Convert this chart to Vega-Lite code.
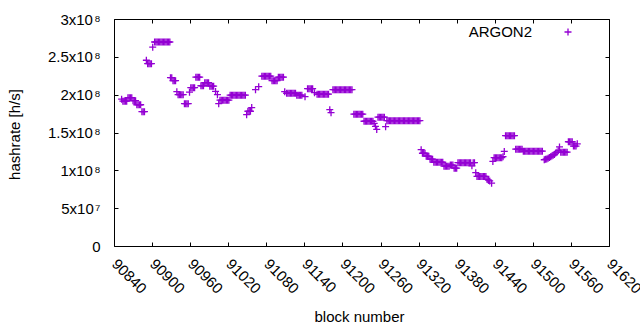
{
"$schema": "https://vega.github.io/schema/vega-lite/v6.json",
"width": 495, "height": 227,
"autosize": {"type": "none"},
"padding": {"left": 114, "top": 19, "right": 31, "bottom": 84},
"background": "white",
"config": {
 "font": "Liberation Sans",
 "view": {"stroke": "#000", "strokeWidth": 1},
 "axis": {"labelFont": "Liberation Sans", "labelFontSize": 15, "labelColor": "#000", "titleFont": "Liberation Sans", "titleFontSize": 15, "titleFontWeight": "normal", "titleColor": "#000", "tickColor": "#000", "tickWidth": 1, "domain": false, "grid": false},
 "legend": {"orient": "none", "legendX": 446.5, "legendY": 5.5, "padding": 0, "labelFont": "Liberation Sans", "labelFontSize": 15, "labelColor": "#000", "labelAlign": "right", "labelOffset": -43.5, "symbolType": "M-1,0H1M0,-1V1", "symbolSize": 49, "symbolStrokeWidth": 1.3, "symbolFillColor": "transparent", "symbolStrokeColor": "#9400d3"}
},
"data": {"values": [
{"b":90852,"h":1.94e8},
{"b":90854,"h":1.914e8},{"b":90856,"h":1.914e8},{"b":90858,"h":1.914e8},{"b":90860,"h":1.914e8},
{"b":90862,"h":1.96e8},{"b":90864,"h":1.96e8},{"b":90866,"h":1.96e8},{"b":90868,"h":1.96e8},
{"b":90870,"h":1.92e8},{"b":90872,"h":1.92e8},{"b":90874,"h":1.92e8},
{"b":90876,"h":1.867e8},{"b":90878,"h":1.867e8},{"b":90880,"h":1.867e8},{"b":90882,"h":1.867e8},
{"b":90884,"h":1.775e8},{"b":90886,"h":1.775e8},{"b":90888,"h":1.775e8},
{"b":90891,"h":2.455e8},
{"b":90893,"h":2.409e8},{"b":90895,"h":2.409e8},{"b":90897,"h":2.409e8},{"b":90899,"h":2.409e8},
{"b":90901,"h":2.627e8},
{"b":90904,"h":2.696e8},{"b":90906,"h":2.696e8},{"b":90908,"h":2.696e8},{"b":90910,"h":2.696e8},{"b":90912,"h":2.696e8},{"b":90914,"h":2.696e8},{"b":90916,"h":2.696e8},{"b":90918,"h":2.696e8},{"b":90920,"h":2.696e8},{"b":90922,"h":2.696e8},{"b":90924,"h":2.696e8},{"b":90926,"h":2.696e8},{"b":90928,"h":2.696e8},
{"b":90929,"h":2.224e8},{"b":90931,"h":2.224e8},
{"b":90933,"h":2.185e8},{"b":90935,"h":2.185e8},{"b":90937,"h":2.185e8},
{"b":90939,"h":2.039e8},
{"b":90941,"h":2.0e8},{"b":90943,"h":2.0e8},{"b":90945,"h":2.0e8},{"b":90947,"h":2.0e8},{"b":90949,"h":2.0e8},
{"b":90951,"h":1.881e8},{"b":90953,"h":1.881e8},{"b":90955,"h":1.881e8},{"b":90957,"h":1.881e8},
{"b":90959,"h":2.033e8},
{"b":90961,"h":2.092e8},{"b":90963,"h":2.092e8},{"b":90965,"h":2.092e8},{"b":90967,"h":2.092e8},
{"b":90969,"h":2.231e8},{"b":90971,"h":2.231e8},{"b":90973,"h":2.231e8},{"b":90975,"h":2.231e8},
{"b":90977,"h":2.118e8},{"b":90979,"h":2.118e8},{"b":90981,"h":2.118e8},
{"b":90983,"h":2.158e8},{"b":90985,"h":2.158e8},{"b":90987,"h":2.158e8},{"b":90989,"h":2.158e8},
{"b":90991,"h":2.112e8},{"b":90993,"h":2.112e8},{"b":90995,"h":2.112e8},{"b":90997,"h":2.112e8},
{"b":91000,"h":2.043e8},
{"b":91003,"h":2.0e8},
{"b":91005,"h":1.881e8},
{"b":91007,"h":1.927e8},{"b":91009,"h":1.927e8},{"b":91011,"h":1.927e8},{"b":91013,"h":1.927e8},{"b":91015,"h":1.927e8},{"b":91017,"h":1.927e8},{"b":91019,"h":1.927e8},{"b":91021,"h":1.927e8},
{"b":91023,"h":1.993e8},{"b":91025,"h":1.993e8},{"b":91027,"h":1.993e8},{"b":91029,"h":1.993e8},{"b":91031,"h":1.993e8},{"b":91033,"h":1.993e8},{"b":91035,"h":1.993e8},{"b":91037,"h":1.993e8},{"b":91039,"h":1.993e8},{"b":91041,"h":1.993e8},{"b":91043,"h":1.993e8},{"b":91045,"h":1.993e8},{"b":91047,"h":1.993e8},
{"b":91049,"h":1.735e8},
{"b":91051,"h":1.781e8},{"b":91053,"h":1.781e8},{"b":91055,"h":1.781e8},
{"b":91057,"h":1.83e8},
{"b":91063,"h":2.066e8},
{"b":91068,"h":2.105e8},
{"b":91073,"h":2.244e8},{"b":91075,"h":2.244e8},{"b":91077,"h":2.244e8},{"b":91079,"h":2.244e8},{"b":91081,"h":2.244e8},{"b":91083,"h":2.244e8},{"b":91085,"h":2.244e8},{"b":91087,"h":2.244e8},
{"b":91089,"h":2.185e8},{"b":91091,"h":2.185e8},{"b":91093,"h":2.185e8},{"b":91095,"h":2.185e8},{"b":91097,"h":2.185e8},
{"b":91099,"h":2.231e8},{"b":91101,"h":2.231e8},{"b":91103,"h":2.231e8},{"b":91105,"h":2.231e8},{"b":91107,"h":2.231e8},
{"b":91109,"h":2.039e8},
{"b":91112,"h":2.019e8},{"b":91114,"h":2.019e8},{"b":91116,"h":2.019e8},{"b":91118,"h":2.019e8},{"b":91120,"h":2.019e8},{"b":91122,"h":2.019e8},{"b":91124,"h":2.019e8},{"b":91126,"h":2.019e8},
{"b":91128,"h":1.993e8},{"b":91130,"h":1.993e8},{"b":91132,"h":1.993e8},{"b":91134,"h":1.993e8},{"b":91136,"h":1.993e8},
{"b":91141,"h":1.973e8},
{"b":91145,"h":2.079e8},{"b":91147,"h":2.079e8},{"b":91149,"h":2.079e8},{"b":91151,"h":2.079e8},{"b":91153,"h":2.079e8},
{"b":91156,"h":2.026e8},
{"b":91160,"h":2.006e8},{"b":91162,"h":2.006e8},{"b":91164,"h":2.006e8},{"b":91166,"h":2.006e8},{"b":91168,"h":2.006e8},{"b":91170,"h":2.006e8},{"b":91172,"h":2.006e8},{"b":91174,"h":2.006e8},{"b":91176,"h":2.006e8},{"b":91178,"h":2.006e8},
{"b":91180,"h":1.801e8},{"b":91182,"h":1.762e8},
{"b":91185,"h":2.066e8},{"b":91187,"h":2.066e8},{"b":91189,"h":2.066e8},{"b":91191,"h":2.066e8},{"b":91193,"h":2.066e8},{"b":91195,"h":2.066e8},{"b":91197,"h":2.066e8},{"b":91199,"h":2.066e8},{"b":91201,"h":2.066e8},{"b":91203,"h":2.066e8},{"b":91205,"h":2.066e8},{"b":91207,"h":2.066e8},{"b":91209,"h":2.066e8},{"b":91211,"h":2.066e8},{"b":91213,"h":2.066e8},{"b":91215,"h":2.066e8},
{"b":91218,"h":1.742e8},{"b":91220,"h":1.742e8},{"b":91222,"h":1.742e8},{"b":91224,"h":1.742e8},{"b":91226,"h":1.742e8},{"b":91228,"h":1.742e8},{"b":91230,"h":1.742e8},{"b":91232,"h":1.742e8},
{"b":91234,"h":1.649e8},{"b":91236,"h":1.649e8},{"b":91238,"h":1.649e8},{"b":91240,"h":1.649e8},{"b":91242,"h":1.649e8},{"b":91244,"h":1.649e8},{"b":91246,"h":1.649e8},{"b":91248,"h":1.649e8},
{"b":91250,"h":1.62e8},{"b":91252,"h":1.58e8},{"b":91254,"h":1.54e8},
{"b":91256,"h":1.702e8},{"b":91258,"h":1.702e8},{"b":91260,"h":1.702e8},{"b":91262,"h":1.702e8},{"b":91264,"h":1.702e8},{"b":91266,"h":1.702e8},
{"b":91268,"h":1.577e8},
{"b":91270,"h":1.656e8},{"b":91272,"h":1.656e8},{"b":91274,"h":1.656e8},{"b":91276,"h":1.656e8},{"b":91278,"h":1.656e8},{"b":91280,"h":1.656e8},{"b":91282,"h":1.656e8},{"b":91284,"h":1.656e8},{"b":91286,"h":1.656e8},{"b":91288,"h":1.656e8},{"b":91290,"h":1.656e8},{"b":91292,"h":1.656e8},{"b":91294,"h":1.656e8},{"b":91296,"h":1.656e8},{"b":91298,"h":1.656e8},{"b":91300,"h":1.656e8},{"b":91302,"h":1.656e8},{"b":91304,"h":1.656e8},{"b":91306,"h":1.656e8},{"b":91308,"h":1.656e8},{"b":91310,"h":1.656e8},{"b":91312,"h":1.656e8},{"b":91314,"h":1.656e8},{"b":91316,"h":1.656e8},{"b":91318,"h":1.656e8},{"b":91320,"h":1.656e8},{"b":91322,"h":1.656e8},
{"b":91324,"h":1.273e8},
{"b":91326,"h":1.226e8},{"b":91328,"h":1.226e8},{"b":91330,"h":1.226e8},
{"b":91332,"h":1.187e8},{"b":91334,"h":1.187e8},{"b":91336,"h":1.187e8},
{"b":91338,"h":1.147e8},{"b":91340,"h":1.147e8},{"b":91342,"h":1.147e8},
{"b":91344,"h":1.107e8},{"b":91346,"h":1.107e8},{"b":91348,"h":1.107e8},{"b":91350,"h":1.107e8},{"b":91352,"h":1.107e8},{"b":91354,"h":1.107e8},{"b":91356,"h":1.107e8},{"b":91358,"h":1.107e8},
{"b":91360,"h":1.055e8},{"b":91362,"h":1.055e8},{"b":91364,"h":1.055e8},{"b":91366,"h":1.055e8},{"b":91368,"h":1.055e8},
{"b":91370,"h":1.07e8},{"b":91372,"h":1.07e8},{"b":91374,"h":1.07e8},
{"b":91376,"h":1.028e8},{"b":91378,"h":1.028e8},{"b":91380,"h":1.028e8},
{"b":91382,"h":1.101e8},{"b":91384,"h":1.101e8},{"b":91386,"h":1.101e8},{"b":91388,"h":1.101e8},{"b":91390,"h":1.101e8},{"b":91392,"h":1.101e8},{"b":91394,"h":1.101e8},{"b":91396,"h":1.101e8},{"b":91398,"h":1.101e8},{"b":91400,"h":1.101e8},{"b":91402,"h":1.101e8},
{"b":91404,"h":1.06e8},{"b":91406,"h":1.101e8},{"b":91408,"h":1.101e8},
{"b":91410,"h":9.69e7},
{"b":91412,"h":9.2e7},{"b":91414,"h":9.2e7},{"b":91416,"h":9.2e7},{"b":91418,"h":9.2e7},{"b":91420,"h":9.2e7},{"b":91422,"h":9.2e7},{"b":91424,"h":9.2e7},{"b":91426,"h":9.2e7},
{"b":91428,"h":8.8e7},{"b":91430,"h":8.7e7},{"b":91432,"h":8.6e7},{"b":91435,"h":8.3e7},
{"b":91437,"h":1.118e8},
{"b":91439,"h":1.167e8},{"b":91441,"h":1.167e8},{"b":91443,"h":1.167e8},{"b":91445,"h":1.167e8},{"b":91447,"h":1.167e8},{"b":91449,"h":1.167e8},{"b":91451,"h":1.167e8},
{"b":91453,"h":1.18e8},{"b":91455,"h":1.25e8},
{"b":91457,"h":1.458e8},{"b":91459,"h":1.458e8},{"b":91461,"h":1.458e8},{"b":91463,"h":1.458e8},{"b":91465,"h":1.458e8},{"b":91467,"h":1.458e8},{"b":91469,"h":1.458e8},{"b":91471,"h":1.458e8},
{"b":91473,"h":1.279e8},{"b":91475,"h":1.279e8},{"b":91477,"h":1.279e8},{"b":91479,"h":1.279e8},{"b":91481,"h":1.279e8},{"b":91483,"h":1.279e8},
{"b":91485,"h":1.253e8},{"b":91487,"h":1.253e8},{"b":91489,"h":1.253e8},{"b":91491,"h":1.253e8},{"b":91493,"h":1.253e8},{"b":91495,"h":1.253e8},{"b":91497,"h":1.253e8},{"b":91499,"h":1.253e8},{"b":91501,"h":1.253e8},{"b":91503,"h":1.253e8},{"b":91505,"h":1.253e8},{"b":91507,"h":1.253e8},{"b":91509,"h":1.253e8},{"b":91511,"h":1.253e8},{"b":91513,"h":1.253e8},{"b":91515,"h":1.253e8},
{"b":91518,"h":1.14e8},{"b":91520,"h":1.145e8},{"b":91522,"h":1.15e8},{"b":91524,"h":1.16e8},{"b":91526,"h":1.17e8},{"b":91528,"h":1.18e8},{"b":91530,"h":1.19e8},{"b":91532,"h":1.2e8},{"b":91534,"h":1.21e8},{"b":91536,"h":1.23e8},{"b":91538,"h":1.24e8},{"b":91540,"h":1.26e8},{"b":91542,"h":1.31e8},
{"b":91544,"h":1.24e8},{"b":91546,"h":1.24e8},{"b":91548,"h":1.24e8},{"b":91550,"h":1.24e8},{"b":91552,"h":1.24e8},{"b":91554,"h":1.24e8},
{"b":91556,"h":1.378e8},{"b":91558,"h":1.378e8},{"b":91560,"h":1.378e8},{"b":91562,"h":1.378e8},
{"b":91564,"h":1.32e8},{"b":91566,"h":1.32e8},{"b":91568,"h":1.32e8},{"b":91570,"h":1.35e8}
]},
"layer": [
 {
  "mark": {"type": "point", "shape": "M-1,0H1M0,-1V1", "filled": false, "size": 49, "strokeWidth": 1.3, "opacity": 1},
  "encoding": {
   "x": {"field": "b", "type": "quantitative", "scale": {"domain": [90840, 91620], "nice": false, "zero": false},
    "axis": {"orient": "bottom", "values": [90840,90900,90960,91020,91080,91140,91200,91260,91320,91380,91440,91500,91560,91620], "format": "d", "labelAngle": 45, "labelAlign": "left", "labelBaseline": "middle", "labelPadding": 19, "tickSize": -4, "labelFlush": false, "labelOverlap": false, "title": "block number", "titleX": 245, "titleY": 70, "titleBaseline": "middle", "titleAlign": "center"}},
   "y": {"field": "h", "type": "quantitative", "scale": {"domain": [0, 300000000], "nice": false},
    "axis": {"orient": "left", "values": [0,50000000,100000000,150000000,200000000,250000000,300000000], "labelExpr": "datum.value == 0 ? '0' : (datum.value < 100000000 ? (datum.value/10000000) + 'x10\u200a⁷' : (datum.value/100000000) + 'x10\u200a⁸')", "labelBaseline": "middle", "labelPadding": 18, "tickSize": -4, "labelFlush": false, "labelOverlap": false, "title": "hashrate [h/s]", "titleX": -100, "titleY": 115, "titleAngle": -90, "titleBaseline": "middle", "titleAlign": "center"}},
   "color": {"datum": "ARGON2", "type": "nominal", "scale": {"range": ["#9400d3"]}, "legend": {"title": null}}
  }
 },
 {
  "mark": {"type": "point", "opacity": 0},
  "encoding": {
   "x": {"field": "b", "type": "quantitative", "scale": {"domain": [90840, 91620], "nice": false, "zero": false},
    "axis": {"orient": "top", "values": [90840,90900,90960,91020,91080,91140,91200,91260,91320,91380,91440,91500,91560,91620], "labels": false, "tickSize": -4, "title": null}},
   "y": {"field": "h", "type": "quantitative", "scale": {"domain": [0, 300000000], "nice": false},
    "axis": {"orient": "right", "values": [0,50000000,100000000,150000000,200000000,250000000,300000000], "labels": false, "tickSize": -4, "title": null}}
  }
 }
],
"resolve": {"axis": {"x": "independent", "y": "independent"}}
}
